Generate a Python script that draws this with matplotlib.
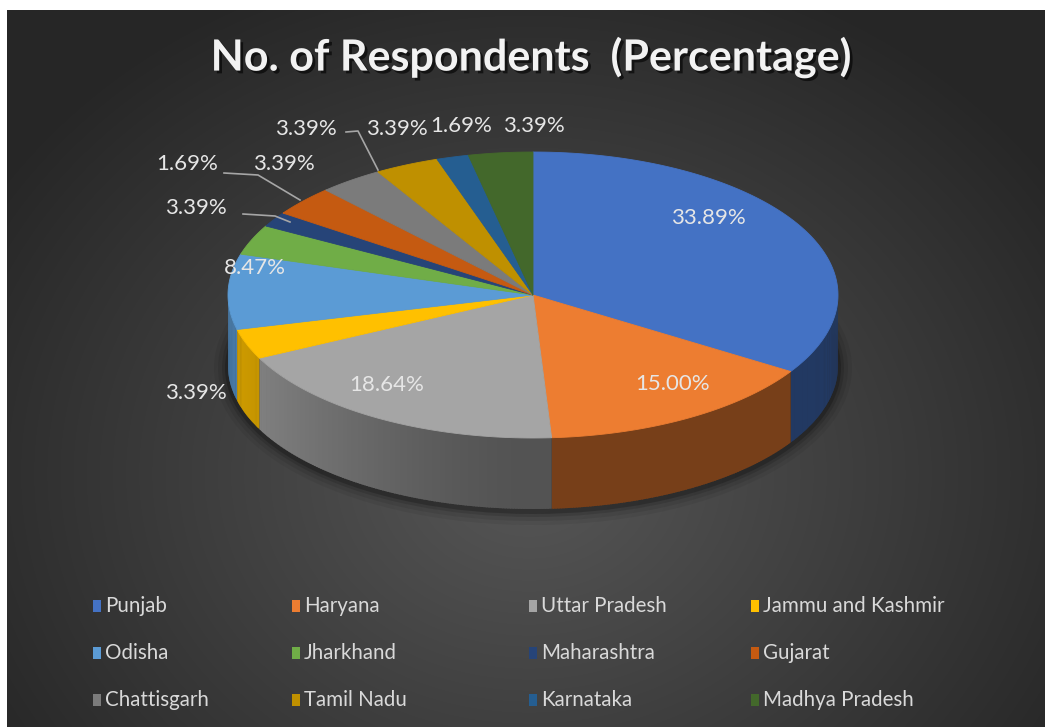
import numpy as np
import matplotlib.pyplot as plt
import matplotlib.patheffects as pe
from matplotlib.patches import Polygon, Rectangle, Ellipse

states = ["Punjab", "Haryana", "Uttar Pradesh", "Jammu and Kashmir",
          "Odisha", "Jharkhand", "Maharashtra", "Gujarat",
          "Chattisgarh", "Tamil Nadu", "Karnataka", "Madhya Pradesh"]
percent = [33.89, 15.00, 18.64, 3.39, 8.47, 3.39, 1.69, 3.39,
           3.39, 3.39, 1.69, 3.39]
colors = ["#4472C4", "#ED7D31", "#A5A5A5", "#FFC000", "#5B9BD5", "#70AD47",
          "#264478", "#C55A11", "#7B7B7B", "#BF9000", "#255E91", "#43682B"]

W, H = 1045, 727
FONT = "Lato"

# pie geometry in pixel space (y grows downwards)
cx, cy = 533, 295
ra, rb = 305, 143
depth = 71

# where each percentage label sits, plus optional leader line
label_pos = [(708, 218), (673, 384), (387, 385), (196, 393), (255, 268),
             (196, 208), (187, 164), (284, 164), (306, 129), (397, 129),
             (461, 126), (534, 126)]
leaders = {5: [(243, 214), (275, 216), (290, 222)],
           6: [(224, 173), (258, 175), (300, 200)],
           8: [(346, 132), (358, 131), (378, 170)]}


def ell(t, dy=0.0):
    t = np.radians(t)
    return cx + ra * np.sin(t), cy - rb * np.cos(t) + dy


def shade(c, f):
    r, g, b = [int(c[i:i + 2], 16) / 255 for i in (1, 3, 5)]
    return (r * f, g * f, b * f)


fig = plt.figure(figsize=(W / 100, H / 100), dpi=100, facecolor="white")
ax = fig.add_axes([0, 0, 1, 1])
ax.set_xlim(0, W)
ax.set_ylim(H, 0)
ax.axis("off")

# dark radial background
yy, xx = np.mgrid[0:H, 0:W]
r = np.sqrt(((xx - 525) / 640.0) ** 2 + ((yy - 470) / 540.0) ** 2)
v = 0.34 - 0.19 * np.clip(r, 0, 1)
bg = np.dstack([v, v, v])
ax.imshow(bg, extent=[7, W, H, 10], zorder=0, interpolation="bilinear")

# soft shadow under the slab
for grow, a in [(14, 0.06), (10, 0.08), (6, 0.12), (3, 0.2)]:
    ax.add_patch(Ellipse((cx, cy + depth + 2), 2 * (ra + grow),
                         2 * (rb + grow), fc="black", ec="none", alpha=a,
                         zorder=1))

bounds = np.concatenate([[0], np.cumsum(percent)]) / sum(percent) * 360

# side walls of the slab, front half only
for i, col in enumerate(colors):
    t0, t1 = max(bounds[i], 90), min(bounds[i + 1], 270)
    if t1 <= t0:
        continue
    steps = np.linspace(t0, t1, max(3, int((t1 - t0) * 2)))
    for a0, a1 in zip(steps[:-1], steps[1:]):
        m = np.radians((a0 + a1) / 2)
        f = 0.50 + 0.32 * max(0.0, -np.sin(m)) ** 1.5
        ts = np.linspace(a0, min(a1 + 0.3, t1), 4)
        x, y = ell(ts)
        xb, yb = ell(ts, depth)
        ax.add_patch(Polygon(np.c_[np.r_[x, xb[::-1]], np.r_[y, yb[::-1]]],
                             closed=True, fc=shade(col, f), ec="none",
                             zorder=2))

# top faces
for i, col in enumerate(colors):
    ts = np.linspace(bounds[i], bounds[i + 1], 120)
    x, y = ell(ts)
    ax.add_patch(Polygon(np.c_[np.r_[cx, x], np.r_[cy, y]], closed=True,
                         fc=col, ec=col, lw=0.6, zorder=3))

# percentage labels
for i, p in enumerate(percent):
    lx, ly = label_pos[i]
    ax.text(lx, ly, f"{p:.2f}%", color="#e6e6e6", fontsize=16,
            family=FONT, ha="center", va="center", zorder=5)
for pts in leaders.values():
    px, py = zip(*pts)
    ax.plot(px, py, color="#a6a6a6", lw=1.2, zorder=4)

# title with a drop shadow
ax.text(531, 57, "No. of Respondents  (Percentage)", color="#f2f2f2",
        fontsize=31, fontweight="bold", family=FONT, ha="center",
        va="center", zorder=6,
        path_effects=[pe.withSimplePatchShadow(offset=(2, -2),
                                               shadow_rgbFace="black",
                                               alpha=0.6)])

# legend, four columns by three rows
col_x = [97, 296, 533, 755]
row_y = [606, 653, 700]
for i, name in enumerate(states):
    x0 = col_x[i % 4]
    y0 = row_y[i // 4]
    ax.add_patch(Rectangle((x0 - 4, y0 - 6), 8, 12, fc=colors[i], ec="none",
                           zorder=5))
    ax.text(x0 + 8, y0, name, color="#d9d9d9", fontsize=14.8, family=FONT,
            ha="left", va="center", zorder=5)

fig.savefig("out.png", dpi=100, facecolor="white")
